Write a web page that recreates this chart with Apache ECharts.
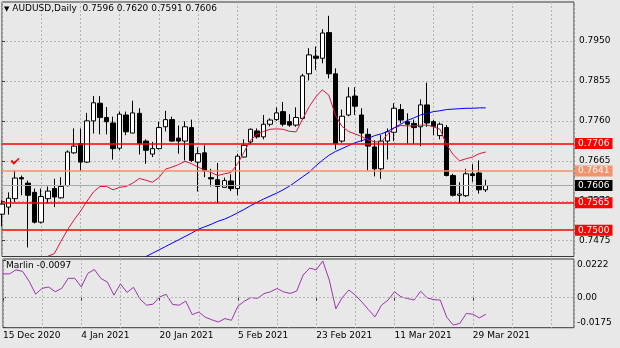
<!DOCTYPE html>
<html>
<head>
<meta charset="utf-8">
<title>AUDUSD Daily</title>
<script src="https://cdn.jsdelivr.net/npm/echarts@6/dist/echarts.min.js"></script>
<style>
  html, body { margin: 0; padding: 0; background: #e8e8e8; }
  #chart { width: 620px; height: 348px; }
</style>
</head>
<body>
<div id="chart"></div>
<script>
// ---- AUDUSD daily bars, 15 Dec 2020 .. 31 Mar 2021 ----
const dates = [
  '2020-12-15','2020-12-16','2020-12-17','2020-12-18','2020-12-21','2020-12-22','2020-12-23','2020-12-24','2020-12-28','2020-12-29',
  '2020-12-30','2020-12-31','2021-01-04','2021-01-05','2021-01-06','2021-01-07','2021-01-08','2021-01-11','2021-01-12','2021-01-13',
  '2021-01-14','2021-01-15','2021-01-18','2021-01-19','2021-01-20','2021-01-21','2021-01-22','2021-01-25','2021-01-26','2021-01-27',
  '2021-01-28','2021-01-29','2021-02-01','2021-02-02','2021-02-03','2021-02-04','2021-02-05','2021-02-08','2021-02-09','2021-02-10',
  '2021-02-11','2021-02-12','2021-02-15','2021-02-16','2021-02-17','2021-02-18','2021-02-19','2021-02-22','2021-02-23','2021-02-24',
  '2021-02-25','2021-02-26','2021-03-01','2021-03-02','2021-03-03','2021-03-04','2021-03-05','2021-03-08','2021-03-09','2021-03-10',
  '2021-03-11','2021-03-12','2021-03-15','2021-03-16','2021-03-17','2021-03-18','2021-03-19','2021-03-22','2021-03-23','2021-03-24',
  '2021-03-25','2021-03-26','2021-03-29','2021-03-30','2021-03-31'
];

const opens = [
  .7538,.7555,.7575,.7625,.7612,.7590,.7519,.7575,.7599,.7577,
  .7606,.7684,.7706,.7662,.7760,.7802,.7768,.7755,.7695,.7774,
  .7731,.7778,.7712,.7681,.7694,.7746,.7763,.7719,.7712,.7744,
  .7662,.7684,.7625,.7620,.7602,.7617,.7599,.7674,.7710,.7736,
  .7722,.7752,.7763,.7782,.7758,.7750,.7766,.7872,.7914,.7909,
  .7970,.7872,.7712,.7774,.7819,.7774,.7728,.7698,.7646,.7712,
  .7733,.7787,.7758,.7754,.7746,.7798,.7758,.7725,.7744,.7630,
  .7583,.7582,.7634,.7636,.7596
];
const highs = [
  .7571,.7590,.7642,.7630,.7618,.7599,.7599,.7604,.7622,.7626,
  .7690,.7742,.7742,.7779,.7819,.7819,.7793,.7770,.7782,.7782,
  .7808,.7790,.7716,.7710,.7758,.7784,.7770,.7749,.7759,.7763,
  .7697,.7702,.7646,.7660,.7625,.7633,.7682,.7716,.7742,.7742,
  .7774,.7766,.7792,.7805,.7776,.7792,.7872,.7933,.7937,.7978,
  .8010,.7885,.7787,.7840,.7840,.7790,.7742,.7714,.7726,.7742,
  .7802,.7800,.7778,.7763,.7811,.7851,.7762,.7756,.7750,.7634,
  .7614,.7646,.7657,.7666,.7620
];
const lows = [
  .7509,.7537,.7567,.7583,.7459,.7516,.7516,.7564,.7555,.7575,
  .7604,.7682,.7641,.7660,.7730,.7728,.7728,.7668,.7690,.7726,
  .7731,.7680,.7658,.7674,.7692,.7735,.7710,.7682,.7666,.7662,
  .7592,.7626,.7604,.7564,.7601,.7593,.7583,.7673,.7704,.7718,
  .7716,.7747,.7760,.7747,.7746,.7746,.7763,.7856,.7881,.7897,
  .7861,.7692,.7708,.7771,.7774,.7710,.7642,.7628,.7622,.7668,
  .7712,.7754,.7706,.7706,.7700,.7746,.7726,.7716,.7628,.7580,
  .7563,.7579,.7615,.7587,.7591
];
const closes = [
  .7562,.7576,.7624,.7622,.7583,.7519,.7580,.7593,.7579,.7604,
  .7686,.7700,.7662,.7760,.7803,.7768,.7758,.7694,.7776,.7734,
  .7779,.7706,.7690,.7694,.7744,.7763,.7712,.7712,.7746,.7666,
  .7682,.7641,.7622,.7604,.7618,.7599,.7676,.7702,.7740,.7722,
  .7752,.7762,.7779,.7752,.7750,.7768,.7867,.7917,.7909,.7969,
  .7872,.7706,.7771,.7817,.7795,.7731,.7700,.7646,.7712,.7734,
  .7790,.7762,.7752,.7744,.7798,.7755,.7747,.7752,.7630,.7583,
  .7586,.7634,.7630,.7596,.7606
];

// fast (red) and slow (blue) moving averages
const maFast = [
  null,null,null,null,null,null,null,.7438,.7444,.7473,
  .7500,.7524,.7545,.7569,.7591,.7604,.7604,.7596,.7602,.7604,
  .7612,.7623,.7619,.7614,.7625,.7645,.7650,.7656,.7664,.7658,
  .7650,.7643,.7637,.7630,.7634,.7637,.7657,.7685,.7714,.7728,
  .7735,.7740,.7741,.7740,.7735,.7734,.7765,.7794,.7817,.7834,
  .7821,.7774,.7747,.7735,.7729,.7723,.7715,.7710,.7710,.7728,
  .7743,.7749,.7748,.7748,.7750,.7750,.7746,.7740,.7704,.7680,
  .7665,.7670,.7674,.7682,.7686
];
const maSlow = [
  null,null,null,null,null,null,null,null,null,null,
  null,null,null,null,null,null,null,null,null,null,
  null,null,.7437,.7445,.7453,.7461,.7469,.7477,.7485,.7493,
  .7502,.7508,.7514,.7521,.7526,.7533,.7541,.7549,.7558,.7566,
  .7574,.7581,.7588,.7596,.7605,.7616,.7627,.7638,.7653,.7666,
  .7678,.7687,.7694,.7701,.7708,.7713,.7718,.7725,.7729,.7735,
  .7744,.7752,.7761,.7767,.7774,.7778,.7782,.7784,.7787,.7788,
  .7789,.7790,.7790,.7791,.7791
];

// Marlin oscillator (lower pane)
const marlin = [
  .0140,.0140,.0164,.0155,.0097,.0021,.0055,.0063,.0035,.0055,
  .0114,.0114,.0063,.0143,.0166,.0113,.0092,.0015,.0081,.0031,
  .0061,-.0008,-.0044,-.0038,.0004,.0020,-.0040,-.0044,-.0020,-.0100,
  -.0084,-.0115,-.0130,-.0143,-.0123,-.0133,-.0050,-.0020,.0001,-.0004,
  .0024,.0035,.0054,.0034,.0025,.0039,.0134,.0174,.0164,.0216,
  .0104,-.0065,.0001,.0045,.0015,-.0026,-.0070,-.0113,-.0044,-.0014,
  .0035,.0005,-.0005,-.0014,.0038,-.0001,-.0011,-.0014,-.0115,-.0161,
  -.0151,-.0093,-.0097,-.0119,-.0097
];

// horizontal price levels
const levelPrices = [0.7706, 0.7641, 0.7565, 0.7500];
const levelColors = ['#ff0000', '#f4926b', '#ff0000', '#ff0000'];

// arrow object: bar index and price
const checkMark = { bar: 2, price: 0.7664 };

// axis ticks
const priceTicks = [0.7475, 0.7570, 0.7665, 0.7760, 0.7855, 0.7950];
const marlinTicks = [-0.0175, 0, 0.0222];
const dateTicks = [0, 12, 24, 36, 48, 60, 72];

const FONT = 'DejaVu Sans';
const X_MAX = 87.5;          // visible bar slots, incl. empty space on the right
const MONTHS = ['Jan','Feb','Mar','Apr','May','Jun','Jul','Aug','Sep','Oct','Nov','Dec'];

function dayLabel(i) {
  const d = dates[Math.round(i)];
  if (!d) return '';
  const [y, m, dd] = d.split('-');
  return (+dd) + ' ' + MONTHS[+m - 1] + ' ' + y;
}

const idx = dates.map((_, i) => i);
const candleData = idx.map(i => [i, opens[i], closes[i], lows[i], highs[i]]);
const toLine = arr => idx.map(i => [i, arr[i]]);
const last = dates.length - 1;

const dashed = { color: '#b4b4b4', type: [2, 2], width: 1 };
const frame = '#3a3a3a';

// one carrier series per horizontal level, so each line keeps its own colour
function levelSeries(price, lineColor, boxColor, width) {
  return {
    name: 'level ' + price.toFixed(4), type: 'line', xAxisIndex: 0, yAxisIndex: 0, z: 3,
    data: [], clip: false, color: lineColor,
    markLine: {
      silent: true, symbol: ['none', 'none'], precision: 4,
      lineStyle: { color: lineColor, width: width, type: 'solid' },
      label: {
        show: true, position: 'end', distance: 1,
        formatter: price.toFixed(4),
        color: '#ffffff', backgroundColor: boxColor, fontSize: 9, fontFamily: FONT,
        padding: [1, 3, 0, 3], lineHeight: 10
      },
      data: [{ yAxis: price }]
    }
  };
}

const levelSeriesList = levelPrices.map((p, k) => levelSeries(p, levelColors[k], levelColors[k], 1.5));
levelSeriesList.push(levelSeries(closes[last], '#a8a8a8', '#000000', 1));

const chart = echarts.init(document.getElementById('chart'));

chart.setOption({
  backgroundColor: '#e8e8e8',
  animation: false,
  textStyle: { fontFamily: FONT },
  title: [
    {
      text: '{tri|\u25BC} AUDUSD,Daily  ' +
        [opens[last], highs[last], lows[last], closes[last]].map(v => v.toFixed(4)).join(' '),
      left: 4, top: 4.5, padding: 0,
      textStyle: {
        fontFamily: FONT, fontSize: 9, fontWeight: 'normal', color: '#000',
        rich: { tri: { fontFamily: FONT, fontSize: 7, color: '#000' } }
      }
    },
    {
      text: 'Marlin ' + marlin[last].toFixed(4),
      left: 6, top: 261.5, padding: 0,
      textStyle: { fontFamily: FONT, fontSize: 9, fontWeight: 'normal', color: '#000' }
    }
  ],
  grid: [
    { left: 2, right: 46, top: 2, bottom: 91.5, show: true,
      backgroundColor: '#e8e8e8', borderColor: frame, borderWidth: 1 },
    { left: 2, right: 46, top: 259, bottom: 20.3, show: true,
      backgroundColor: '#e8e8e8', borderColor: frame, borderWidth: 1 }
  ],
  xAxis: [
    { gridIndex: 0, type: 'value', min: 0, max: X_MAX, interval: 6,
      axisLine: { show: false }, axisTick: { show: false }, axisLabel: { show: false },
      splitLine: { show: true, lineStyle: dashed } },
    { gridIndex: 1, type: 'value', min: 0, max: X_MAX, position: 'bottom',
      axisLine: { show: false },
      axisTick: { show: true, length: 3, customValues: dateTicks, lineStyle: { color: frame } },
      axisLabel: { customValues: dateTicks, formatter: v => dayLabel(v), align: 'left',
        margin: 3, fontSize: 9, fontFamily: FONT, color: '#000' },
      splitLine: { show: false } },
    { gridIndex: 1, type: 'value', min: 0, max: X_MAX, interval: 6, position: 'top',
      axisLine: { show: false }, axisTick: { show: false }, axisLabel: { show: false },
      splitLine: { show: true, lineStyle: dashed } }
  ],
  yAxis: [
    { gridIndex: 0, type: 'value', position: 'right', min: 0.74374, max: 0.80428,
      axisLine: { show: false },
      axisTick: { show: true, length: 3, customValues: priceTicks, lineStyle: { color: frame } },
      axisLabel: { customValues: priceTicks, formatter: v => v.toFixed(4), margin: 5,
        fontSize: 9, fontFamily: FONT, color: '#000' },
      splitLine: { show: true, lineStyle: dashed } },
    { gridIndex: 1, type: 'value', position: 'right', min: -0.01765, max: 0.02276,
      axisLine: { show: false },
      axisTick: { show: true, length: 3, customValues: marlinTicks, lineStyle: { color: frame } },
      axisLabel: {
        customValues: marlinTicks, margin: 3,
        formatter: v => v > 0.01 ? '{t|' + v.toFixed(4) + '}'
          : v < -0.01 ? '{b|' + v.toFixed(4) + '}' : '{m|0.00}',
        rich: {
          t: { fontSize: 9, fontFamily: FONT, color: '#000', padding: [10, 0, 0, 0] },
          b: { fontSize: 9, fontFamily: FONT, color: '#000', padding: [0, 0, 10, 0] },
          m: { fontSize: 9, fontFamily: FONT, color: '#000' }
        }
      },
      splitLine: { show: false } }
  ],
  series: [
    {
      name: 'AUDUSD', type: 'candlestick', xAxisIndex: 0, yAxisIndex: 0,
      data: candleData, barWidth: 5,
      itemStyle: { color: '#ffffff', color0: '#000000', borderColor: '#000000',
        borderColor0: '#000000', borderWidth: 1 },
      markPoint: {
        silent: true,
        data: [{
          coord: [checkMark.bar, checkMark.price],
          symbol: 'path://M0,5 L2,3 L4,6 L10,0 L11,1.5 L4,10 Z',
          symbolSize: [9, 7],
          itemStyle: { color: '#ff0000' },
          label: { show: false }
        }]
      }
    },
    ...levelSeriesList,
    {
      name: 'MA fast', type: 'line', xAxisIndex: 0, yAxisIndex: 0, z: 4,
      data: toLine(maFast), symbol: 'none', silent: true, color: '#dc143c',
      lineStyle: { color: '#dc143c', width: 1 }
    },
    {
      name: 'MA slow', type: 'line', xAxisIndex: 0, yAxisIndex: 0, z: 4,
      data: toLine(maSlow), symbol: 'none', silent: true, color: '#0000ff',
      lineStyle: { color: '#0000ff', width: 1 }
    },
    {
      name: 'Marlin', type: 'line', xAxisIndex: 1, yAxisIndex: 1,
      data: toLine(marlin), symbol: 'none', silent: true, color: '#9e34ae',
      lineStyle: { color: '#9e34ae', width: 1 },
      markLine: {
        silent: true, symbol: ['none', 'none'],
        label: { show: false },
        lineStyle: dashed,
        data: [{ yAxis: 0 }]
      }
    }
  ]
});
</script>
</body>
</html>
